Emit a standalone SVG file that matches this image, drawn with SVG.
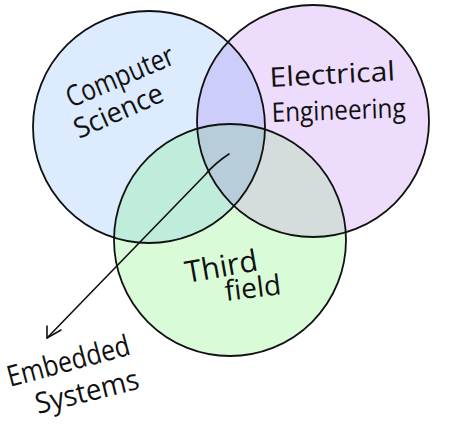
<svg xmlns="http://www.w3.org/2000/svg" width="450" height="424" viewBox="0 0 450 424">
  <style>
    .ring { fill: none; stroke: #111; stroke-width: 1.8; }
    .hand { font-family: "Open Sans", "DejaVu Sans", sans-serif; fill: #111; }
    .link { fill: none; stroke: #111; stroke-width: 1.6; stroke-linecap: round; stroke-linejoin: round; }
  </style>
  <defs>
    <circle id="cs" cx="149" cy="127" r="116"/>
    <circle id="ee" cx="313" cy="121" r="116"/>
    <circle id="tf" cx="230" cy="240" r="116"/>
    <clipPath id="inCS"><use href="#cs"/></clipPath>
    <clipPath id="inEE"><use href="#ee"/></clipPath>
  </defs>
  <rect width="450" height="424" fill="#fff"/>

  <!-- region fills -->
  <g id="fills">
    <use href="#cs" fill="#dcebfd"/>
    <use href="#ee" fill="#eedcfc"/>
    <use href="#tf" fill="#dafbd8"/>
    <use href="#ee" fill="#cdcdfb" clip-path="url(#inCS)"/>
    <use href="#tf" fill="#c0ecdc" clip-path="url(#inCS)"/>
    <use href="#tf" fill="#d4dcdc" clip-path="url(#inEE)"/>
    <g clip-path="url(#inEE)">
      <use href="#tf" fill="#b7cdd9" clip-path="url(#inCS)"/>
    </g>
  </g>

  <g id="computer-science">
    <use href="#cs" class="ring"/>
    <text class="hand" font-size="29" transform="translate(71 108) rotate(-23) scale(0.84 1)">Computer</text>
    <text class="hand" font-size="28" transform="translate(79 139) rotate(-24) scale(0.97 1)">Science</text>
  </g>

  <g id="electrical-engineering">
    <use href="#ee" class="ring"/>
    <text class="hand" font-size="27" transform="translate(270 87) rotate(-3) scale(1.12 1)">Electrical</text>
    <text class="hand" font-size="27" transform="translate(272 122) rotate(-2) scale(0.9 1)">Engineering</text>
  </g>

  <g id="third-field">
    <use href="#tf" class="ring"/>
    <text class="hand" font-size="30" transform="translate(187 283) rotate(-10)">Third</text>
    <text class="hand" font-size="28" transform="translate(226 301) rotate(-7)">field</text>
  </g>

  <g id="embedded-systems">
    <text class="hand" font-size="29" transform="translate(10 387) rotate(-15) scale(0.86 1)">Embedded</text>
    <text class="hand" font-size="29" transform="translate(38 414) rotate(-14) scale(0.95 1)">Systems</text>
  </g>

  <g id="connectors">
    <path class="link" d="M229 154 Q215 163 205 175 L47 338"/>
    <path class="link" d="M47 326 L47 338 L61 330"/>
  </g>
</svg>
